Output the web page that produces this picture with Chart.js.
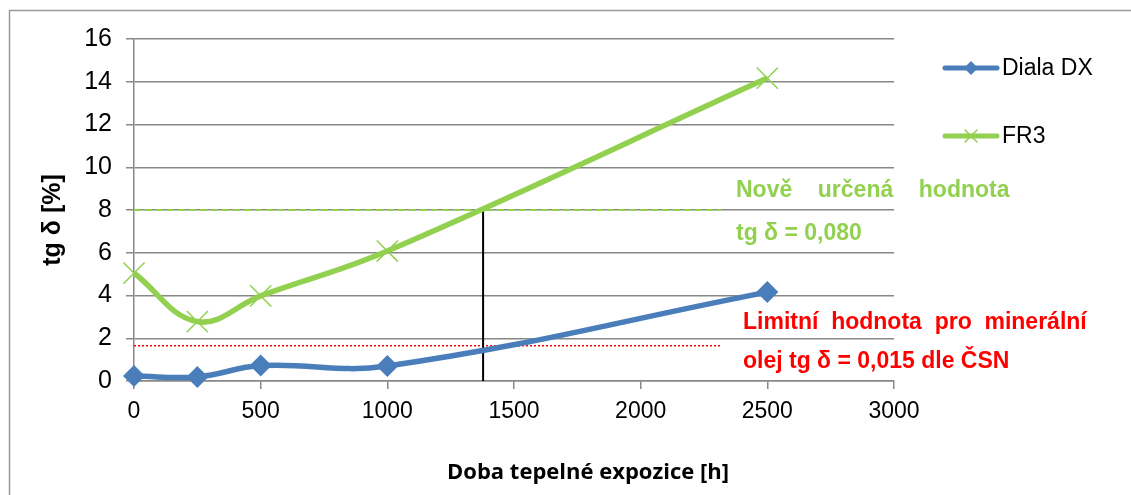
<!DOCTYPE html>
<html>
<head>
<meta charset="utf-8">
<script src="https://cdn.jsdelivr.net/npm/chart.js@4.4.1/dist/chart.umd.min.js"></script>
<style>
  html, body { margin: 0; padding: 0; background: #fff; }
  #wrap { width: 1131px; height: 495px; position: relative; }
</style>
</head>
<body>
<div id="wrap"><canvas id="chart"></canvas></div>
<script>
// exposure time [h]
const hours = [0, 250, 500, 1000, 2500];
const dialaDX = [0.23, 0.19, 0.72, 0.70, 4.16];
const fr3 = [5.05, 2.78, 3.98, 6.08, 14.17];

// reference lines
const newLimitX = [0, 2320];
const newLimitY = [8, 8];
const mineralLimitX = [0, 2320];
const mineralLimitY = [1.65, 1.65];
const crossX = [1378, 1378];
const crossY = [0, 8];

const xTicks = [0, 500, 1000, 1500, 2000, 2500, 3000];
const yTicks = [0, 2, 4, 6, 8, 10, 12, 14, 16];

const BLUE = "#4A7EBB";
const GREEN = "#92D050";
const GRID = "#888888";
const ARIAL = "'Liberation Sans', Arial, sans-serif";

const toPoints = (xs, ys) => xs.map((x, i) => ({ x: x, y: ys[i] }));

// white background + frame, legend and annotation texts
const decor = {
    id: "decor",
    beforeDraw(chart) {
        const c = chart.ctx;
        c.save();
        c.fillStyle = "#fff";
        c.fillRect(0, 0, chart.width, chart.height);
        c.strokeStyle = "#9a9a9a";
        c.lineWidth = 1.5;
        c.beginPath();
        c.moveTo(9.5, 495);
        c.lineTo(9.5, 10.5);
        c.lineTo(1131, 10.5);
        c.stroke();
        c.restore();
    },
    afterDraw(chart) {
        const c = chart.ctx;
        c.save();

        // legend
        const items = [
            { label: "Diala DX", color: BLUE, style: "diamond", y: 68 },
            { label: "FR3", color: GREEN, style: "cross", y: 136 },
        ];
        items.forEach((it) => {
            c.strokeStyle = it.color;
            c.lineWidth = 5;
            c.lineCap = "round";
            c.beginPath();
            c.moveTo(945, it.y);
            c.lineTo(997, it.y);
            c.stroke();
            if (it.style === "diamond") {
                c.fillStyle = it.color;
                c.beginPath();
                c.moveTo(971, it.y - 7);
                c.lineTo(978, it.y);
                c.lineTo(971, it.y + 7);
                c.lineTo(964, it.y);
                c.closePath();
                c.fill();
            } else {
                c.lineWidth = 1.5;
                c.beginPath();
                c.moveTo(965, it.y - 6);
                c.lineTo(977, it.y + 6);
                c.moveTo(977, it.y - 6);
                c.lineTo(965, it.y + 6);
                c.stroke();
            }
            c.fillStyle = "#000";
            c.font = "23px " + ARIAL;
            c.textBaseline = "middle";
            c.textAlign = "left";
            c.fillText(it.label, 1002, it.y + 1);
        });

        // annotations
        c.font = "bold 23px " + ARIAL;
        c.textBaseline = "middle";
        c.textAlign = "left";
        c.fillStyle = GREEN;
        c.fillText("Nově    určená    hodnota", 736, 191);
        c.fillText("tg δ = 0,080", 736, 234);
        c.fillStyle = "#ff0000";
        c.fillText("Limitní  hodnota  pro  minerální", 743, 323);
        c.fillText("olej tg δ = 0,015 dle ČSN", 743, 362);

        // axis titles
        c.fillStyle = "#000";
        c.font = "bold 22px 'Open Sans', sans-serif";
        c.textAlign = "center";
        c.fillText("Doba tepelné expozice [h]", 588, 473);

        c.translate(53, 220);
        c.rotate(-Math.PI / 2);
        c.font = "bold 25px " + ARIAL;
        c.fillText("tg δ [%]", 0, 0);
        c.restore();
    },
};

new Chart(document.getElementById("chart"), {
    type: "line",
    data: {
        datasets: [
            {
                label: "Diala DX",
                data: toPoints(hours, dialaDX),
                borderColor: BLUE,
                backgroundColor: BLUE,
                borderWidth: 5.5,
                tension: 0.4,
                pointStyle: "rectRot",
                pointRadius: 11,
                pointBorderWidth: 0,
                clip: false,
                order: 0,
            },
            {
                label: "FR3",
                data: toPoints(hours, fr3),
                borderColor: GREEN,
                backgroundColor: GREEN,
                borderWidth: 5.5,
                tension: 0.4,
                pointStyle: "crossRot",
                pointRadius: 15,
                pointBorderWidth: 1.5,
                clip: false,
                order: 0,
            },
            {
                label: "new limit",
                data: toPoints(newLimitX, newLimitY),
                borderColor: GREEN,
                borderWidth: 2,
                borderDash: [7, 4],
                pointRadius: 0,
                order: 2,
            },
            {
                label: "mineral limit",
                data: toPoints(mineralLimitX, mineralLimitY),
                borderColor: "#ff0000",
                borderWidth: 1.5,
                borderDash: [2, 2],
                pointRadius: 0,
                order: 2,
            },
            {
                label: "crossing",
                data: toPoints(crossX, crossY),
                borderColor: "#000",
                borderWidth: 2,
                pointRadius: 0,
                order: 1,
            },
        ],
    },
    options: {
        responsive: true,
        maintainAspectRatio: false,
        animation: false,
        layout: { padding: { top: 39, right: 237, left: 0, bottom: 0 } },
        plugins: {
            legend: { display: false },
            tooltip: { enabled: false },
        },
        scales: {
            x: {
                type: "linear",
                min: 0,
                max: 3000,
                afterBuildTicks: (s) => { s.ticks = xTicks.map((v) => ({ value: v })); },
                afterFit: (s) => { s.height = 114; },
                ticks: {
                    color: "#000",
                    padding: 9,
                    callback: (v) => String(v),
                    font: { family: ARIAL, size: 23 },
                },
                grid: { drawOnChartArea: false, color: GRID, lineWidth: 1.5, tickLength: 8 },
                border: { color: GRID, width: 1.5 },
            },
            y: {
                min: 0,
                max: 16,
                afterBuildTicks: (s) => { s.ticks = yTicks.map((v) => ({ value: v })); },
                afterFit: (s) => { s.width = 134; },
                ticks: {
                    color: "#000",
                    padding: 14,
                    callback: (v) => String(v),
                    font: { family: ARIAL, size: 25 },
                },
                grid: { color: GRID, lineWidth: 1.5, tickLength: 8 },
                border: { color: GRID, width: 1.5 },
            },
        },
    },
    plugins: [decor],
});
</script>
</body>
</html>
